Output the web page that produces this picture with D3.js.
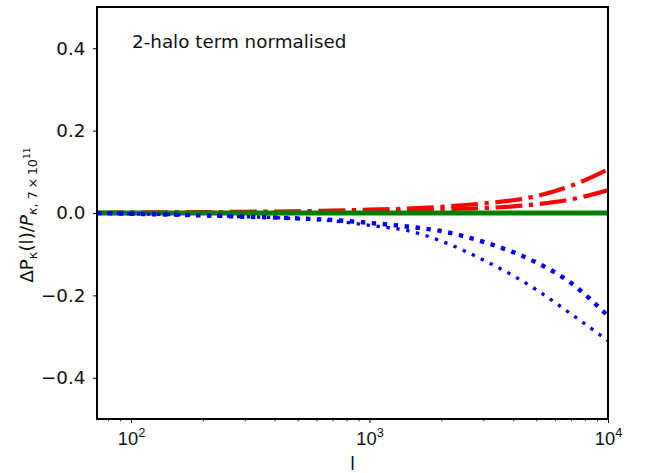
<!DOCTYPE html>
<html>
<head>
<meta charset="utf-8">
<script src="https://cdn.jsdelivr.net/npm/d3@7"></script>
<style>
  html, body { margin: 0; padding: 0; background: #fff; }
  svg { display: block; font-family: "DejaVu Sans", sans-serif; }
</style>
</head>
<body>
<svg id="chart" width="648" height="473"></svg>
<script>
// ---- data ----
const ells = [72, 100, 150, 200, 300, 400, 500, 700, 1000, 1500, 2000, 3000, 4000, 5000, 7000, 10000];
const redUpper  = [0, 0.001, 0.0015, 0.002, 0.003, 0.0035, 0.004, 0.006, 0.008, 0.011, 0.015, 0.023, 0.031, 0.041, 0.066, 0.106];
const redLower  = [0, 0.0005, 0.001, 0.001, 0.0015, 0.002, 0.0025, 0.0035, 0.005, 0.007, 0.009, 0.012, 0.016, 0.021, 0.033, 0.055];
const greenZero = [0, 0, 0, 0, 0, 0, 0, 0, 0, 0, 0, 0, 0, 0, 0, 0];
const blueUpper = [0, -0.002, -0.004, -0.006, -0.009, -0.011, -0.013, -0.017, -0.024, -0.034, -0.044, -0.07, -0.095, -0.12, -0.17, -0.25];
const blueLower = [0, -0.002, -0.004, -0.006, -0.009, -0.011, -0.014, -0.019, -0.03, -0.045, -0.068, -0.114, -0.152, -0.186, -0.245, -0.31];
const xMajorTicks = [100, 1000, 10000];
const xTickExponents = ["2", "3", "4"];
const xMinorTicks = [80, 90, 200, 300, 400, 500, 600, 700, 800, 900, 2000, 3000, 4000, 5000, 6000, 7000, 8000, 9000];
const yTicks = [-0.4, -0.2, 0.0, 0.2, 0.4];
const annotation = "2-halo term normalised";
const xLabel = "l";

// ---- layout ----
const svg = d3.select("#chart");
const mL = 97, mR = 608, mT = 7, mB = 419;
const FS = 18.33, FSsub = 12.8, FSsup2 = 9.2;
const x = d3.scaleLog().domain([72, 10000]).range([mL, mR]);
const y = d3.scaleLinear().domain([-0.5, 0.5]).range([mB, mT]);

svg.append("rect").attr("width", 648).attr("height", 473).attr("fill", "#fff");

svg.append("defs").append("clipPath").attr("id", "clip")
  .append("rect").attr("x", mL).attr("y", mT).attr("width", mR - mL).attr("height", mB - mT);

const line = vals => d3.line()
  .x((d, i) => x(ells[i]))
  .y(d => y(d))
  .curve(d3.curveMonotoneX)(vals);

const plot = svg.append("g").attr("clip-path", "url(#clip)");
const series = [
  { vals: redUpper, color: "#ff0000", width: 4.2, dash: "26.7,6.7,4.2,6.7" },
  { vals: redLower, color: "#ff0000", width: 4.2, dash: "26.7,6.7,4.2,6.7" },
  { vals: greenZero, color: "#008000", width: 5, dash: null },
  { vals: blueUpper, color: "#0000ff", width: 4.4, dash: "4.4,6.6" },
  { vals: blueLower, color: "#0000ff", width: 3.3, dash: "3.3,6.7" }
];
series.forEach(s => {
  plot.append("path")
    .attr("d", line(s.vals))
    .attr("fill", "none")
    .attr("stroke", s.color)
    .attr("stroke-width", s.width)
    .attr("stroke-dasharray", s.dash)
    .attr("stroke-linecap", "butt");
});

// ---- axes ----
const xAxis = svg.append("g").attr("transform", `translate(0,${mB})`)
  .call(d3.axisBottom(x).tickValues(xMajorTicks).tickSize(4).tickSizeOuter(0).tickFormat(() => ""));
xAxis.select(".domain").remove();
xAxis.selectAll(".tick line").attr("stroke", "#000").attr("stroke-width", 1);
xAxis.selectAll(".tick text").remove();
xAxis.selectAll(".tick").each(function(d, i) {
  const t = d3.select(this).append("text")
    .attr("y", 26).attr("text-anchor", "middle")
    .attr("fill", "#111").attr("font-size", FS);
  t.append("tspan").text("10");
  t.append("tspan").attr("dy", -8).attr("font-size", FSsub).text(xTickExponents[i]);
});

const xMinor = svg.append("g").attr("transform", `translate(0,${mB})`)
  .call(d3.axisBottom(x).tickValues(xMinorTicks).tickSize(2.4).tickSizeOuter(0).tickFormat(() => ""));
xMinor.select(".domain").remove();
xMinor.selectAll(".tick line").attr("stroke", "#000").attr("stroke-width", 0.8);

const yAxis = svg.append("g").attr("transform", `translate(${mL},0)`)
  .call(d3.axisLeft(y).tickValues(yTicks).tickSize(4).tickPadding(7.5)
    .tickFormat(d => d3.format(".1f")(d).replace("-", "\u2212")));
yAxis.select(".domain").remove();
yAxis.selectAll(".tick line").attr("stroke", "#000").attr("stroke-width", 1);
yAxis.selectAll(".tick text").attr("font-size", FS).attr("fill", "#111")
  .attr("font-family", "DejaVu Sans");

// frame
svg.append("rect").attr("x", mL).attr("y", mT).attr("width", mR - mL).attr("height", mB - mT)
  .attr("fill", "none").attr("stroke", "#000").attr("stroke-width", 2);

// annotation
svg.append("text").attr("x", 132).attr("y", 48).attr("font-size", FS).attr("fill", "#111").text(annotation);

// x label
svg.append("text").attr("x", (mL + mR) / 2).attr("y", 470).attr("text-anchor", "middle")
  .attr("font-size", FS).attr("fill", "#111").text(xLabel);

// y label
const yl = svg.append("text")
  .attr("transform", `translate(33,${(mT + mB) / 2 + 2}) rotate(-90)`)
  .attr("text-anchor", "middle").attr("font-size", FS).attr("fill", "#111");
yl.append("tspan").text("\u0394P");
yl.append("tspan").attr("font-size", FSsub).attr("dy", 3.5).text("\u03BA");
yl.append("tspan").attr("dy", -3.5).text("(l)/");
yl.append("tspan").attr("font-style", "italic").text("P");
yl.append("tspan").attr("font-size", FSsub).attr("font-style", "italic").attr("dy", 3.5).text("\u03BA");
yl.append("tspan").attr("font-size", FSsub).text(", 7\u2009\u00D7\u200910");
yl.append("tspan").attr("font-size", FSsup2).attr("dy", -6.5).text("11");
</script>
</body>
</html>
